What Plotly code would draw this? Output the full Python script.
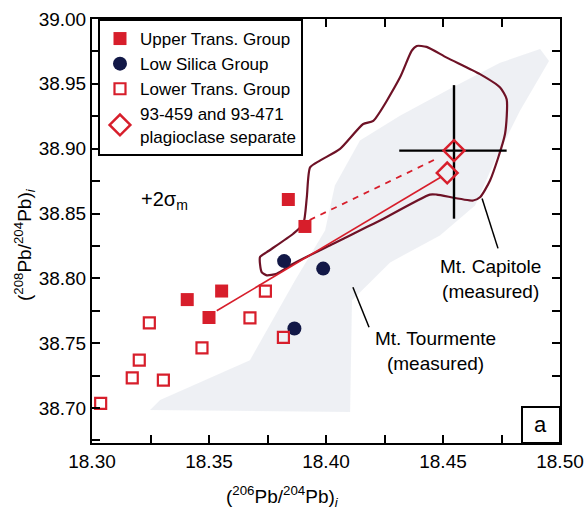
import plotly.graph_objects as go

# ---- data ----
upper_x = [18.3839, 18.3910, 18.3407, 18.3554, 18.3500]
upper_y = [38.8608, 38.8400, 38.7836, 38.7902, 38.7698]

lowsil_x = [18.3821, 18.3988, 18.3865]
lowsil_y = [38.8133, 38.8075, 38.7613]

lower_x = [18.3741, 18.3675, 18.3818, 18.3470, 18.3245, 18.3202, 18.3172, 18.3305, 18.3037]
lower_y = [38.7902, 38.7695, 38.7544, 38.7464, 38.7656, 38.7369, 38.7233, 38.7215, 38.7036]

plag_x = [18.4547, 18.4518]
plag_y = [38.8985, 38.8813]

solid_x = [18.3533, 18.4490]
solid_y = [38.7750, 38.8780]
dash_x = [18.3930, 18.4470]
dash_y = [38.8450, 38.8920]

cross_x = [18.4313, 18.4772, None, 18.4547, 18.4547]
cross_y = [38.8985, 38.8985, None, 38.9490, 38.8460]

capitole_x = [18.4388, 18.4430, 18.4516, 18.4658, 18.4744, 18.4772, 18.4765, 18.4701,
              18.4658, 18.4629, 18.4473, 18.4444, 18.4231, 18.4174, 18.4031, 18.3860,
              18.3789, 18.3747, 18.3725, 18.3718, 18.3747, 18.3860, 18.3903, 18.3918,
              18.3932, 18.3974, 18.4060, 18.4159, 18.4202, 18.4316, 18.4366, 18.4388]
capitole_y = [38.9792, 38.9785, 38.9702, 38.9575, 38.9472, 38.9382, 38.9113, 38.8754,
              38.8625, 38.8600, 38.8646, 38.8646, 38.8446, 38.8395, 38.8267, 38.8113,
              38.8036, 38.8023, 38.8048, 38.8164, 38.8202, 38.8344, 38.8421, 38.8625,
              38.8856, 38.8908, 38.8998, 38.9190, 38.9215, 38.9548, 38.9754, 38.9792]

tourmente_x = [18.3248, 18.4103, 18.4111, 18.4274, 18.4487, 18.4637, 18.4722, 18.4829,
               18.4953, 18.4915, 18.4744, 18.4530, 18.4316, 18.4145, 18.4038, 18.3996,
               18.3868, 18.3675, 18.3291, 18.3248]
tourmente_y = [38.6985, 38.6969, 38.7831, 38.8123, 38.8331, 38.8562, 38.8908, 38.9292,
               38.9677, 38.9769, 38.9662, 38.9462, 38.9254, 38.9062, 38.8715, 38.8369,
               38.7985, 38.7369, 38.7062, 38.6985]

ptr_cap_x = [18.4667, 18.4735]
ptr_cap_y = [38.8615, 38.8231]
ptr_tour_x = [18.4115, 18.4184]
ptr_tour_y = [38.7931, 38.7623]

# tick positions (major labelled, minor unlabelled)
x_ticks = [18.300, 18.325, 18.350, 18.375, 18.400, 18.425, 18.450, 18.475, 18.500]
x_labels = ["18.30", "", "18.35", "", "18.40", "", "18.45", "", "18.50"]
y_ticks = [38.675, 38.700, 38.725, 38.750, 38.775, 38.800, 38.825, 38.850,
           38.875, 38.900, 38.925, 38.950, 38.975, 39.000]
y_labels = ["", "38.70", "", "38.75", "", "38.80", "", "38.85",
            "", "38.90", "", "38.95", "", "39.00"]

RED = "#d71e2b"
NAVY = "#121847"
MAROON = "#6e1226"
FONT = "Liberation Sans, Arial, sans-serif"

fig = go.Figure()

fig.add_trace(go.Scatter(x=tourmente_x, y=tourmente_y, mode="lines", fill="toself",
                         fillcolor="rgba(200,205,218,0.30)", line=dict(width=0),
                         showlegend=False, hoverinfo="skip"))
fig.add_trace(go.Scatter(x=capitole_x, y=capitole_y, mode="lines",
                         line=dict(color=MAROON, width=2.2, shape="spline", smoothing=0.6),
                         showlegend=False, hoverinfo="skip"))
fig.add_trace(go.Scatter(x=solid_x, y=solid_y, mode="lines", line=dict(color=RED, width=1.6),
                         showlegend=False, hoverinfo="skip"))
fig.add_trace(go.Scatter(x=dash_x, y=dash_y, mode="lines",
                         line=dict(color=RED, width=1.8, dash="6px,6px"),
                         showlegend=False, hoverinfo="skip"))
fig.add_trace(go.Scatter(x=cross_x, y=cross_y, mode="lines", line=dict(color="black", width=2.4),
                         showlegend=False, hoverinfo="skip"))
fig.add_trace(go.Scatter(x=ptr_cap_x, y=ptr_cap_y, mode="lines", line=dict(color="black", width=1.5),
                         showlegend=False, hoverinfo="skip"))
fig.add_trace(go.Scatter(x=ptr_tour_x, y=ptr_tour_y, mode="lines", line=dict(color="black", width=1.5),
                         showlegend=False, hoverinfo="skip"))

fig.add_trace(go.Scatter(x=upper_x, y=upper_y, mode="markers", name="Upper Trans. Group",
                         marker=dict(symbol="square", size=13, color=RED, line=dict(width=0))))
fig.add_trace(go.Scatter(x=lowsil_x, y=lowsil_y, mode="markers", name="Low Silica Group",
                         marker=dict(symbol="circle", size=14, color=NAVY, line=dict(width=0))))
fig.add_trace(go.Scatter(x=lower_x, y=lower_y, mode="markers", name="Lower Trans. Group",
                         marker=dict(symbol="square-open", size=11, color=RED, line=dict(width=2.2))))
fig.add_trace(go.Scatter(x=plag_x, y=plag_y, mode="markers",
                         name="93-459 and 93-471<br>plagioclase separate",
                         marker=dict(symbol="diamond-open", size=16, color=RED, line=dict(width=2.5))))

axis_common = dict(showline=True, linecolor="black", linewidth=2, mirror="ticks",
                   ticks="inside", ticklen=8, tickwidth=2, tickcolor="black",
                   showgrid=False, zeroline=False,
                   tickfont=dict(family=FONT, size=19, color="black"))

fig.update_xaxes(range=[18.30, 18.50], tickmode="array", tickvals=x_ticks, ticktext=x_labels,
                 **axis_common)
fig.update_yaxes(range=[38.673, 39.00], tickmode="array", tickvals=y_ticks, ticktext=y_labels,
                 **axis_common)

ann = [
    dict(x=0.408, y=-0.127, xref="paper", yref="paper", xanchor="center", yanchor="middle",
         showarrow=False, text="(<sup>206</sup>Pb/<sup>204</sup>Pb)<sub><i>i</i></sub>",
         font=dict(size=19)),
    dict(x=-0.143, y=0.467, xref="paper", yref="paper", xanchor="center", yanchor="middle",
         showarrow=False, textangle=-90,
         text="(<sup>208</sup>Pb/<sup>204</sup>Pb)<sub><i>i</i></sub>", font=dict(size=19)),
    dict(x=18.3308, y=38.860, showarrow=False, text="+2σ<sub>m</sub>", font=dict(size=20)),
    dict(x=18.4701, y=38.7996, showarrow=False, text="Mt. Capitole<br>(measured)", font=dict(size=19)),
    dict(x=18.4468, y=38.7442, showarrow=False, text="Mt. Tourmente<br>(measured)", font=dict(size=19)),
    dict(x=0.9594, y=0.0425, xref="paper", yref="paper", xanchor="center", yanchor="middle",
         showarrow=False, text="a", font=dict(size=22)),
]

fig.update_layout(
    width=584, height=514,
    margin=dict(l=92, r=24, t=19, b=71, autoexpand=False),
    paper_bgcolor="white", plot_bgcolor="white",
    font=dict(family=FONT, size=19, color="black"),
    annotations=ann,
    shapes=[dict(type="rect", xref="paper", yref="paper", x0=0.9188, x1=1.0, y0=0.0, y1=0.0849,
                 line=dict(color="black", width=2), fillcolor="white", layer="above")],
    legend=dict(x=0.0128, y=1.0, xanchor="left", yanchor="top", bgcolor="white",
                bordercolor="black", borderwidth=2, font=dict(family=FONT, size=17),
                tracegroupgap=0),
    showlegend=True,
)

fig.write_html("out.html")
